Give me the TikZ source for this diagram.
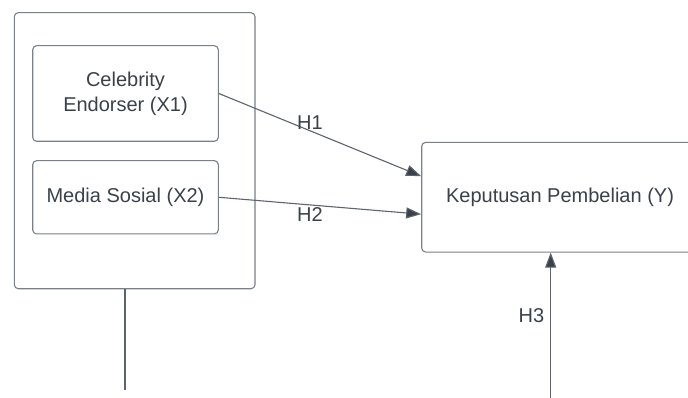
\documentclass[tikz,border=0pt]{standalone}
\usepackage{fontspec}
\setmainfont{Liberation Sans}
\usetikzlibrary{arrows.meta,calc}
\definecolor{txt}{HTML}{3A414A}
\definecolor{brd}{HTML}{7A8089}
\definecolor{ln}{HTML}{5E646D}
\tikzset{
  box/.style={draw=brd, line width=1.1pt, rounded corners=4pt, text=txt, align=center, inner sep=0pt,
    font=\fontsize{20}{25}\selectfont},
  conn/.style={draw=ln, line width=1.1pt, -{Triangle[length=15pt,width=11pt,fill=txt]}},
  plain/.style={draw=ln, line width=1.1pt},
  lab/.style={text=txt, font=\fontsize{20}{24}\selectfont, inner sep=0pt}
}
\begin{document}
\begin{tikzpicture}[x=1pt,y=-1pt]
\clip (0,0) rectangle (688,398);
\fill[white] (0,0) rectangle (688,398);
\node[box, minimum width=240.7pt, minimum height=276pt] (outer) at (134.65,150.7) {};
\node[box, minimum width=185.6pt, minimum height=95.6pt] (x1) at (125.5,93.5) {Celebrity\\Endorser (X1)};
\node[box, minimum width=185.6pt, minimum height=73.3pt] (x2) at (125.5,197.3) {Media Sosial (X2)};
\node[box, minimum width=276.6pt, minimum height=109.7pt] (y) at (560,197.2) {Keputusan Pembelian (Y)};
\coordinate (bot) at (125,390);
\coordinate (h3s) at (550.7,400);
\draw[conn] (x1.east) -- ([yshift=21pt]y.west) node[lab, pos=0.45, above=1pt] {H1};
\draw[conn] (x2.east) -- ([yshift=-17pt]y.west) node[lab, pos=0.45, below=2pt] {H2};
\draw[plain] (bot |- outer.south) -- (bot);
\draw[conn] (h3s) -- (h3s |- y.south) node[lab, pos=0.57, left=6pt] {H3};
\end{tikzpicture}
\end{document}
